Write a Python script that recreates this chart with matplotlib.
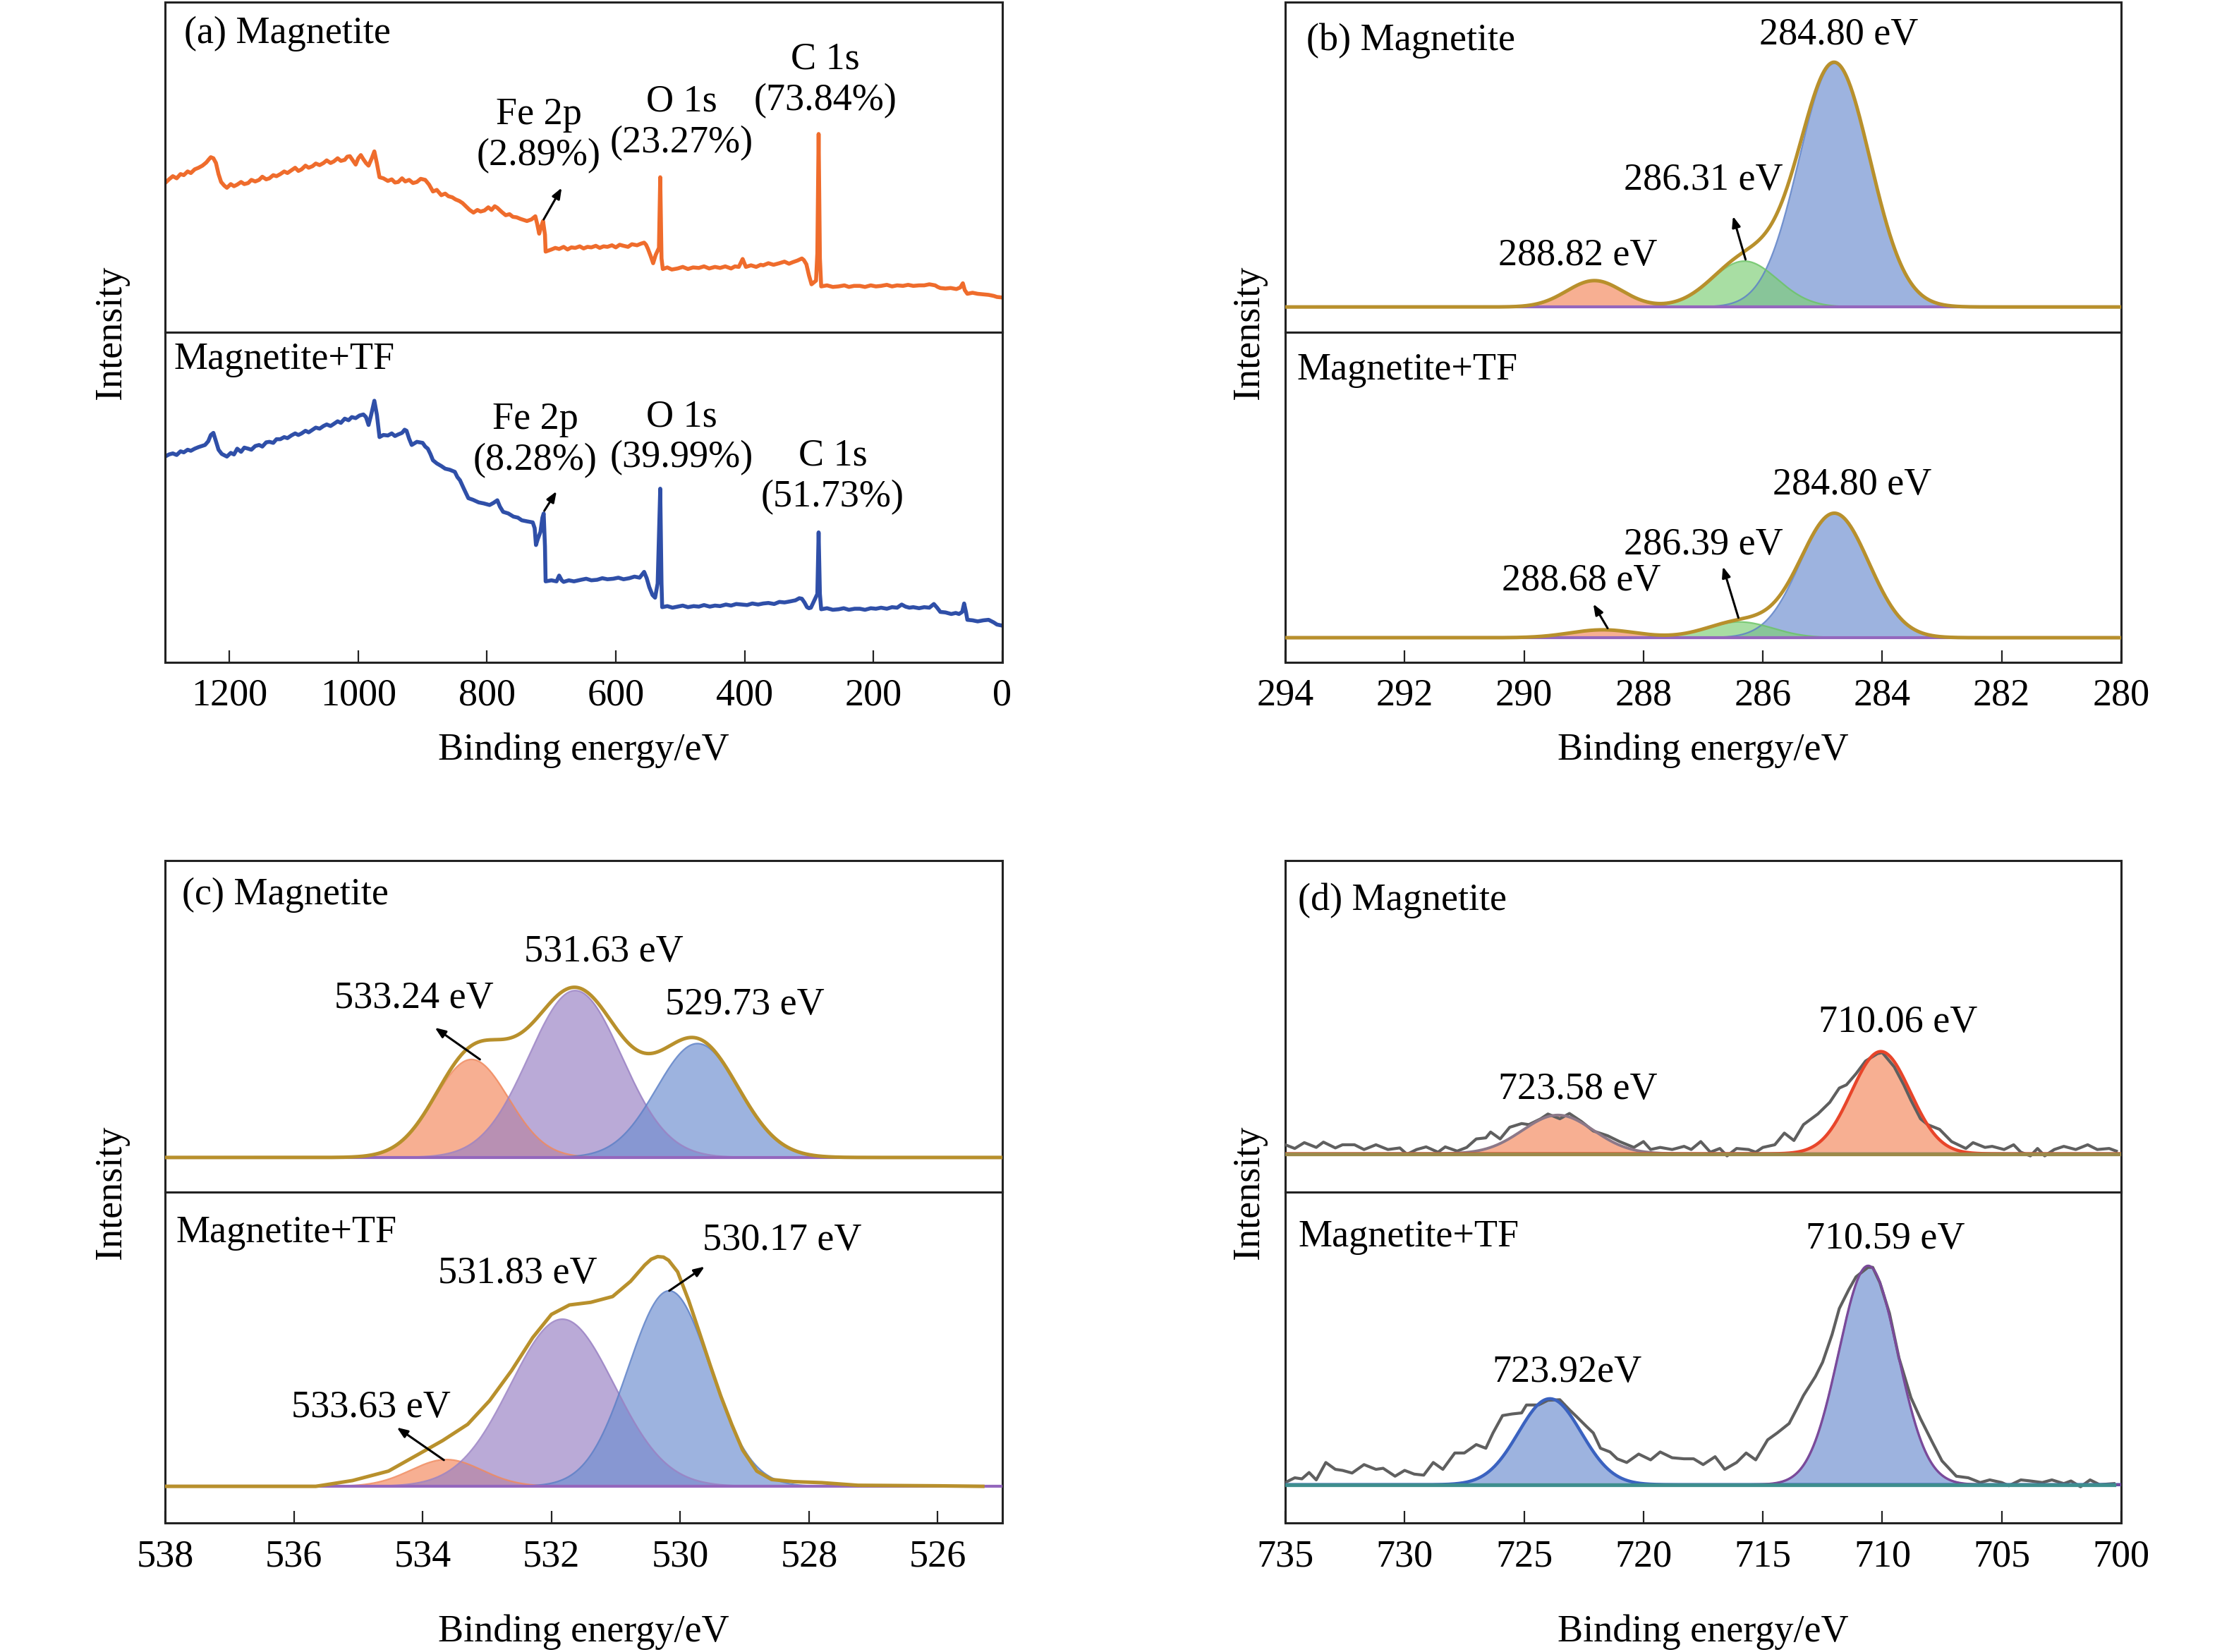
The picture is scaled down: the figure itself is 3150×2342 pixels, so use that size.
import numpy as np
import matplotlib
matplotlib.use("Agg")
import matplotlib.pyplot as plt

plt.rcParams['font.family'] = ['Liberation Serif', 'DejaVu Serif']
FS = 39

# ---------------- (a) survey spectra (eV, intensity a.u.) ----------------
survey_mag_ev = [1300, 1294, 1288, 1282, 1276, 1271, 1265, 1260, 1254, 1248, 1242, 1236,
                 1232, 1229, 1225, 1221, 1217, 1213, 1208, 1204, 1198, 1193, 1188, 1182,
                 1177, 1171, 1166, 1160, 1154, 1149, 1143, 1138, 1132, 1127, 1121, 1115,
                 1110, 1104, 1098, 1093, 1088, 1082, 1077, 1071, 1066, 1060, 1054, 1049,
                 1043, 1038, 1032, 1027, 1021, 1017, 1013, 1008, 1004, 1000, 996, 992,
                 988, 984, 979, 975, 971, 967, 961, 954, 948, 943, 938, 932,
                 927, 921, 915, 909, 903, 896, 890, 884, 878, 871, 865, 860,
                 854, 849, 843, 838, 832, 827, 821, 815, 810, 804, 798, 793,
                 788, 784, 777, 771, 765, 760, 754, 748, 743, 738, 731, 725,
                 722, 719, 716, 713, 710, 709, 700, 694, 688, 681, 675, 669,
                 663, 656, 650, 644, 638, 631, 625, 619, 613, 606, 600, 594,
                 588, 581, 575, 567, 561, 556, 553, 550, 546, 542, 538, 533,
                 531, 529, 527, 520, 513, 504, 496, 488, 480, 471, 463, 455,
                 446, 438, 430, 421, 415, 409, 403, 398, 390, 382, 375, 371,
                 363, 355, 346, 338, 331, 325, 318, 311, 308, 304, 300, 296,
                 292, 289, 287, 285, 283, 281, 272, 263, 254, 245, 238, 230,
                 221, 213, 204, 196, 188, 179, 171, 163, 154, 146, 138, 129,
                 121, 113, 104, 100, 96, 88, 80, 71, 65, 61, 58, 54,
                 46, 38, 29, 21, 13, 8, 0]
survey_mag_int = [283, 290, 296, 292, 300, 298, 305, 302, 309, 312, 316, 322,
                  328, 332, 330, 321, 300, 285, 278, 274, 281, 277, 280, 285,
                  281, 283, 289, 286, 289, 295, 290, 292, 298, 296, 300, 305,
                  302, 307, 312, 306, 309, 316, 312, 315, 320, 317, 321, 326,
                  321, 324, 330, 325, 327, 333, 334, 325, 318, 330, 336, 328,
                  321, 316, 330, 343, 320, 294, 292, 287, 290, 284, 285, 292,
                  286, 289, 283, 285, 291, 289, 280, 267, 270, 260, 263, 258,
                  256, 252, 249, 245, 238, 232, 227, 232, 229, 231, 237, 232,
                  239, 236, 228, 222, 224, 219, 218, 215, 213, 211, 214, 220,
                  205, 187, 200, 211, 185, 153, 157, 160, 158, 162, 157, 161,
                  160, 163, 159, 162, 161, 164, 160, 163, 162, 165, 161, 166,
                  164, 162, 167, 165, 168, 170, 166, 158, 145, 131, 147, 160,
                  294, 140, 120, 123, 119, 121, 124, 120, 123, 122, 125, 121,
                  124, 122, 125, 121, 125, 124, 139, 124, 127, 124, 128, 127,
                  131, 128, 131, 134, 130, 133, 136, 140, 137, 129, 108, 91,
                  95, 98, 150, 376, 140, 87, 89, 86, 87, 89, 86, 88,
                  88, 86, 89, 87, 88, 90, 87, 89, 88, 90, 88, 89,
                  89, 91, 89, 86, 84, 83, 84, 82, 85, 93, 80, 73,
                  75, 73, 72, 71, 69, 67, 66]

survey_tf_ev = [1300, 1294, 1288, 1282, 1276, 1271, 1265, 1260, 1254, 1248, 1243, 1238,
                1233, 1229, 1225, 1221, 1217, 1212, 1204, 1198, 1193, 1188, 1182, 1177,
                1171, 1166, 1160, 1154, 1149, 1143, 1138, 1132, 1127, 1121, 1115, 1110,
                1104, 1098, 1093, 1088, 1082, 1077, 1071, 1066, 1060, 1054, 1049, 1043,
                1038, 1032, 1027, 1021, 1015, 1010, 1004, 998, 992, 988, 984, 980,
                975, 971, 967, 961, 954, 948, 943, 938, 932, 928, 925, 921,
                917, 909, 900, 896, 892, 888, 884, 878, 871, 865, 858, 850,
                846, 842, 836, 829, 822, 813, 805, 796, 790, 784, 780, 775,
                767, 759, 752, 746, 738, 729, 726, 724, 721, 717, 714, 712,
                710, 709, 700, 692, 688, 684, 681, 673, 665, 654, 646, 638,
                629, 621, 613, 604, 596, 588, 579, 571, 563, 556, 552, 548,
                543, 539, 535, 531, 529, 528, 520, 512, 504, 496, 488, 479,
                471, 463, 454, 446, 438, 429, 421, 413, 404, 396, 388, 379,
                371, 363, 354, 346, 338, 329, 321, 315, 311, 307, 303, 300,
                297, 287, 285, 283, 281, 272, 263, 254, 246, 238, 229, 221,
                213, 204, 196, 188, 179, 171, 163, 156, 150, 144, 138, 129,
                121, 113, 106, 101, 96, 88, 79, 72, 67, 62, 59, 56,
                54, 46, 38, 29, 21, 13, 8, 0]
survey_tf_int = [391, 395, 397, 394, 401, 399, 404, 402, 406, 409, 411, 413,
                 420, 432, 436, 420, 404, 396, 391, 398, 395, 406, 400, 408,
                 406, 404, 411, 413, 410, 418, 419, 417, 424, 424, 428, 426,
                 431, 435, 432, 435, 440, 437, 442, 446, 444, 449, 452, 449,
                 453, 458, 455, 463, 460, 466, 464, 469, 471, 466, 451, 470,
                 497, 470, 428, 432, 431, 435, 430, 433, 436, 442, 440, 425,
                 413, 419, 417, 410, 406, 396, 384, 378, 373, 368, 366, 362,
                 352, 346, 330, 312, 309, 304, 302, 299, 303, 308, 296, 286,
                 283, 277, 275, 270, 268, 266, 255, 223, 235, 248, 275, 283,
                 220, 154, 156, 154, 165, 156, 153, 156, 154, 157, 159, 156,
                 157, 160, 158, 159, 161, 158, 160, 163, 161, 172, 160, 143,
                 128, 123, 150, 330, 150, 105, 107, 104, 106, 108, 105, 107,
                 106, 109, 106, 108, 107, 110, 108, 111, 110, 109, 112, 110,
                 112, 113, 111, 115, 114, 116, 118, 122, 121, 114, 105, 103,
                 104, 130, 247, 130, 101, 103, 100, 101, 103, 100, 102, 102,
                 100, 103, 102, 104, 102, 105, 104, 110, 106, 104, 105, 103,
                 105, 104, 111, 104, 96, 95, 92, 94, 92, 96, 112, 95,
                 81, 80, 78, 80, 81, 76, 72, 70]

# ---------------- (b) C 1s fitted peaks: centre, height, FWHM ----------------
c1s_mag_centre = [284.80, 286.31, 288.82]
c1s_mag_height = [462, 87, 50]
c1s_mag_fwhm = [1.4, 1.3, 1.1]
c1s_tf_centre = [284.80, 286.39, 288.68]
c1s_tf_height = [236, 30, 15]
c1s_tf_fwhm = [1.35, 1.3, 1.3]

# ---------------- (c) O 1s fitted peaks ----------------
o1s_mag_centre = [533.24, 531.63, 529.73]
o1s_mag_height = [185, 315, 215]
o1s_mag_fwhm = [1.35, 1.7, 1.5]
o1s_tf_centre = [533.63, 531.83, 530.17]
o1s_tf_height = [51, 318, 372]
o1s_tf_fwhm = [1.3, 1.9, 1.5]
# fitted envelope of Magnetite+TF O 1s
o1s_tf_env_ev = [538.0, 536.5, 535.66, 535.09, 534.53, 534.08, 533.69, 533.3, 532.96,
                 532.62, 532.29, 532.0, 531.72, 531.39, 531.05, 530.77, 530.55, 530.45,
                 530.35, 530.26, 530.18, 530.04, 529.87, 529.7, 529.53, 529.37, 529.2,
                 529.03, 528.81, 528.58, 528.25, 527.8, 527.24, 526.0, 525.3]
o1s_tf_env_int = [0, 0, 0, 11, 29, 60, 87, 118, 163,
                  220, 283, 327, 345, 350, 361, 390, 421, 432,
                  437, 436, 430, 408, 354, 292, 229, 172, 118,
                  69, 29, 13, 9, 7, 2, 1, 0]

# ---------------- (d) Fe 2p raw data and fitted peaks ----------------
fe_mag_ev = [735.0, 734.6, 734.2, 733.7, 733.4, 732.9, 732.6, 732.1, 731.7, 731.2, 730.7,
             730.2, 729.9, 729.5, 729.1, 728.6, 728.3, 727.8, 727.4, 727.0, 726.6, 726.4,
             726.0, 725.6, 725.1, 724.8, 724.3, 724.0, 723.5, 723.1, 722.6, 722.1, 721.5,
             721.0, 720.4, 720.0, 719.7, 719.3, 718.8, 718.3, 718.0, 717.6, 717.2, 716.8,
             716.5, 716.1, 715.6, 715.3, 715.0, 714.5, 714.1, 713.7, 713.3, 712.7, 712.2,
             711.8, 711.5, 711.1, 710.7, 710.2, 710.0, 709.5, 709.1, 708.8, 708.4, 708.1,
             707.6, 707.1, 706.5, 706.2, 705.7, 705.4, 704.9, 704.5, 704.2, 703.8, 703.5,
             703.2, 702.8, 702.4, 701.9, 701.4, 701.0, 700.5, 700.2]
fe_mag_int = [17, 10, 21, 12, 22, 11, 17, 17, 8, 17, 8,
              11, -1, 8, 13, 3, 13, 5, 12, 28, 30, 41,
              28, 50, 57, 55, 66, 75, 66, 76, 61, 43, 34,
              23, 12, 23, 8, 12, 8, 14, 8, 23, 3, 10,
              -4, 10, 8, 3, 12, 17, 39, 25, 55, 75, 97,
              124, 130, 151, 175, 189, 191, 164, 130, 101, 66, 55,
              46, 23, 10, 21, 12, 14, 8, 17, 3, -4, 10,
              -4, 8, 14, 8, 17, 8, 10, 5]
fe_mag_centre = [723.58, 710.06]
fe_mag_height = [73, 193]
fe_mag_fwhm = [3.5, 2.9]

fe_tf_ev = [735.0, 734.6, 734.3, 734.0, 733.7, 733.3, 732.9, 732.6, 732.2, 731.7, 731.2,
            730.9, 730.4, 730.0, 729.6, 729.2, 728.8, 728.4, 727.9, 727.5, 727.0, 726.6,
            726.3, 725.9, 725.5, 725.1, 724.9, 724.4, 724.0, 723.5, 723.1, 722.8, 722.4,
            722.1, 721.8, 721.4, 721.1, 720.7, 720.2, 719.7, 719.3, 718.8, 718.3, 717.9,
            717.5, 717.0, 716.6, 716.1, 715.7, 715.3, 714.8, 714.4, 713.9, 713.6, 713.3,
            712.8, 712.5, 712.1, 711.8, 711.4, 711.1, 710.6, 710.4, 710.1, 709.7, 709.3,
            708.8, 708.4, 707.9, 707.5, 706.9, 706.4, 705.9, 705.5, 705.0, 704.7, 704.2,
            703.8, 703.3, 702.9, 702.4, 702.1, 701.7, 701.3, 700.9, 700.3]
fe_tf_int = [4, 13, 11, 23, 9, 42, 29, 27, 22, 38, 29,
             31, 16, 27, 20, 18, 42, 29, 60, 60, 76, 69,
             98, 131, 134, 136, 151, 151, 160, 161, 142, 129, 111,
             98, 69, 62, 49, 42, 58, 47, 62, 51, 49, 49,
             38, 53, 29, 42, 60, 47, 85, 98, 116, 142, 169,
             205, 232, 285, 334, 370, 394, 412, 412, 383, 325, 240,
             165, 125, 80, 45, 16, 13, 4, 9, 4, -2, 9,
             7, 4, 9, 2, 7, -4, 9, 0, 2]
fe_tf_centre = [723.92, 710.59]
fe_tf_height = [163, 415]
fe_tf_fwhm = [3.1, 2.9]


def gauss(x, c, h, w):
    return h * np.exp(-4 * np.log(2) * (x - c) ** 2 / w ** 2)


fig = plt.figure(figsize=(31.5, 23.42), dpi=100)

L1, W1 = 0.0743, 0.3767
L2, W2 = 0.5784, 0.3762
TOP1, BOT1 = 0.9987, 0.599
TOP2, BOT2 = 0.479, 0.078


def make_pair(left, width, top, bot, xlim, ticks, ylims):
    mid = (top + bot) / 2
    axt = fig.add_axes([left, mid, width, top - mid])
    axb = fig.add_axes([left, bot, width, mid - bot])
    for ax, yl in ((axt, ylims[0]), (axb, ylims[1])):
        ax.set_xlim(*xlim)
        ax.set_ylim(*yl)
        ax.set_yticks([])
        for s in ax.spines.values():
            s.set_linewidth(2.2)
            s.set_color('#222222')
    axt.set_xticks([])
    axb.set_xticks(ticks)
    axb.set_xticklabels([str(t) for t in ticks])
    axb.tick_params(axis='x', direction='in', length=12, width=1.6, pad=16,
                    labelsize=FS, color='#222222')
    fig.text(left - (0.0243 if left < 0.5 else 0.0164), mid, 'Intensity', rotation=90,
             ha='center', va='center', fontsize=FS)
    return axt, axb


def fit_panel(ax, xlo, xhi, centres, heights, fwhms, fills, edges, env_color, base_color,
              env=True):
    x = np.linspace(xhi, xlo, 1200)
    total = np.zeros_like(x)
    for c, h, w, fc, ec in zip(centres, heights, fwhms, fills, edges):
        y = gauss(x, c, h, w)
        total += y
        ax.fill_between(x, 0, y, color=fc, alpha=0.68, lw=0, zorder=2)
        ax.plot(x, y, color=ec, lw=1.6, alpha=0.85, zorder=3)
    ax.plot([xhi, xlo], [0, 0], color=base_color, lw=3, zorder=3)
    if env:
        ax.plot(x, total, color=env_color, lw=3.6, zorder=5)


def arrow(ax, tail, head):
    ax.annotate('', xy=head, xytext=tail,
                arrowprops=dict(arrowstyle='-|>,head_length=0.9,head_width=0.35',
                                color='black', lw=2.2, shrinkA=0, shrinkB=0), zorder=6)


def txt(ax, x, y, s, ha='center'):
    ax.text(x, y, s, ha=ha, va='center', fontsize=FS, zorder=7)


ORANGE = '#f4895f'
GREEN = '#7fcf78'
BLUE = '#6f8fd0'
PURPLE = '#9a82c4'
GOLD = '#b8902c'

# ---------------- panel (a) ----------------
at, ab = make_pair(L1, W1, TOP1, BOT1, (1300, 0), [1200, 1000, 800, 600, 400, 200, 0],
                   [(0, 626), (0, 627)])
at.plot(survey_mag_ev, survey_mag_int, color='#ef6c2c', lw=4, solid_joinstyle='round')
ab.plot(survey_tf_ev, survey_tf_int, color='#2f4fa8', lw=4, solid_joinstyle='round')
txt(at, 1271, 566, '(a) Magnetite', ha='left')
txt(at, 720, 374, 'Fe 2p\n(2.89%)')
txt(at, 498, 398, 'O 1s\n(23.27%)')
txt(at, 275, 478, 'C 1s\n(73.84%)')
arrow(at, (712, 214), (684, 274))
txt(ab, 1286, 575, 'Magnetite+TF', ha='left')
txt(ab, 725, 422, 'Fe 2p\n(8.28%)')
txt(ab, 498, 427, 'O 1s\n(39.99%)')
txt(ab, 263, 353, 'C 1s\n(51.73%)')
arrow(ab, (711, 288), (692, 325))
fig.text(L1 + W1 / 2, 0.5457, 'Binding energy/eV', ha='center', va='center', fontsize=FS)

# ---------------- panel (b) ----------------
bt, bb = make_pair(L2, W2, TOP1, BOT1, (294, 280), list(range(294, 279, -2)),
                   [(-48, 578), (-47, 580)])
fit_panel(bt, 280, 294, c1s_mag_centre, c1s_mag_height, c1s_mag_fwhm,
          [BLUE, GREEN, ORANGE], ['#5b7fc6', '#6cc466', '#f08a5e'], GOLD, '#9467bd')
fit_panel(bb, 280, 294, c1s_tf_centre, c1s_tf_height, c1s_tf_fwhm,
          [BLUE, GREEN, ORANGE], ['#5b7fc6', '#6cc466', '#f08a5e'], GOLD, '#9467bd')
txt(bt, 293.65, 505, '(b) Magnetite', ha='left')
txt(bt, 284.73, 515, '284.80 eV')
txt(bt, 287.0, 240, '286.31 eV')
txt(bt, 289.1, 97, '288.82 eV')
arrow(bt, (286.29, 90), (286.5, 172))
txt(bb, 293.8, 508, 'Magnetite+TF', ha='left')
txt(bb, 284.5, 290, '284.80 eV')
txt(bb, 287.0, 176, '286.39 eV')
txt(bb, 289.04, 108, '288.68 eV')
arrow(bb, (286.41, 38), (286.67, 135))
arrow(bb, (288.6, 18), (288.84, 64))
fig.text(L2 + W2 / 2, 0.5457, 'Binding energy/eV', ha='center', va='center', fontsize=FS)

# ---------------- panel (c) ----------------
ct, cb = make_pair(L1, W1, TOP2, BOT2, (538, 525), list(range(538, 525, -2)),
                   [(-65, 560), (-70, 560)])
fit_panel(ct, 525, 538, o1s_mag_centre, o1s_mag_height, o1s_mag_fwhm,
          [ORANGE, PURPLE, BLUE], ['#f08a5e', '#9a82c4', '#5b7fc6'], GOLD, '#9467bd')
fit_panel(cb, 525, 538, o1s_tf_centre, o1s_tf_height, o1s_tf_fwhm,
          [ORANGE, PURPLE, BLUE], ['#f08a5e', '#9a82c4', '#5b7fc6'], GOLD, '#9467bd',
          env=False)
cb.plot(o1s_tf_env_ev, o1s_tf_env_int, color=GOLD, lw=3.6, zorder=5,
        solid_joinstyle='round')
txt(ct, 537.74, 495, '(c) Magnetite', ha='left')
txt(ct, 531.19, 388, '531.63 eV')
txt(ct, 534.13, 300, '533.24 eV')
txt(ct, 529.0, 288, '529.73 eV')
arrow(ct, (533.11, 185), (533.81, 245))
txt(cb, 537.83, 482, 'Magnetite+TF', ha='left')
txt(cb, 532.53, 405, '531.83 eV')
txt(cb, 528.42, 468, '530.17 eV')
txt(cb, 534.8, 150, '533.63 eV')
arrow(cb, (530.17, 372), (529.62, 418))
arrow(cb, (533.67, 50), (534.4, 112))
fig.text(L1 + W1 / 2, 0.012, 'Binding energy/eV', ha='center', va='center', fontsize=FS)

# ---------------- panel (d) ----------------
dt, db = make_pair(L2, W2, TOP2, BOT2, (735, 700), list(range(735, 699, -5)),
                   [(-72, 553), (-73, 555)])
fit_panel(dt, 700, 735, fe_mag_centre, fe_mag_height, fe_mag_fwhm,
          [ORANGE, ORANGE], ['#8c7888', '#e8452a'], GOLD, '#9c8a4a', env=False)
dt.plot(fe_mag_ev, fe_mag_int, color='#5f5f5f', lw=3, zorder=4)
for c, h, w, ec, lw in zip(fe_mag_centre, fe_mag_height, fe_mag_fwhm,
                           ['#8c7888', '#e8452a'], [2.8, 3.2]):
    xx = np.linspace(735, 700, 900)
    dt.plot(xx, gauss(xx, c, h, w), color=ec, lw=lw, zorder=5)
dt.plot([735, 700], [0, 0], color='#9c8a4a', lw=3.8, zorder=6)
txt(dt, 734.46, 478, '(d) Magnetite', ha='left')
txt(dt, 709.33, 248, '710.06 eV')
txt(dt, 722.76, 121, '723.58 eV')

fit_panel(db, 700, 735, fe_tf_centre, fe_tf_height, fe_tf_fwhm,
          [BLUE, BLUE], ['#3a62c0', '#7a4a9a'], GOLD, '#3e8e8e', env=False)
db.plot(fe_tf_ev, fe_tf_int, color='#5f5f5f', lw=3, zorder=4)
for c, h, w, ec, lw in zip(fe_tf_centre, fe_tf_height, fe_tf_fwhm,
                           ['#3a62c0', '#7a4a9a'], [3.2, 2.4]):
    xx = np.linspace(735, 700, 900)
    db.plot(xx, gauss(xx, c, h, w), color=ec, lw=lw, zorder=5)
db.plot([735, 700.3], [0, 0], color='#3e8e8e', lw=3.8, zorder=6)
txt(db, 734.46, 470, 'Magnetite+TF', ha='left')
txt(db, 709.87, 465, '710.59 eV')
txt(db, 723.2, 213, '723.92eV')
fig.text(L2 + W2 / 2, 0.012, 'Binding energy/eV', ha='center', va='center', fontsize=FS)

fig.savefig('out.png', dpi=100, facecolor='white')
